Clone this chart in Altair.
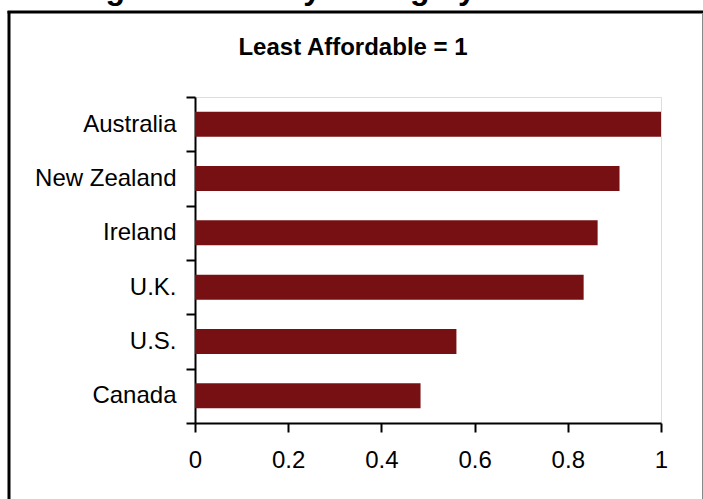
import altair as alt
import pandas as pd

countries = ["Australia", "New Zealand", "Ireland", "U.K.", "U.S.", "Canada"]
values = [1.0, 0.911, 0.864, 0.834, 0.561, 0.484]
x_ticks = [0, 0.2, 0.4, 0.6, 0.8, 1.0]
subtitle = "Least Affordable = 1"
top_title = "Housing Affordability Rating by Nation"

df = pd.DataFrame({"country": countries, "value": values})

FONT = "Liberation Sans"
W, H = 466, 326

bars = alt.Chart(df).mark_bar(color="#771012", height={"band": 0.46}).encode(
    x=alt.X(
        "value:Q",
        scale=alt.Scale(domain=[0, 1], nice=False),
        axis=alt.Axis(
            values=x_ticks, format="~g", title=None, grid=False,
            tickSize=9, tickWidth=2, tickColor="black",
            domainColor="black", domainWidth=2,
            labelFont=FONT, labelFontSize=24, labelColor="black",
            labelPadding=16, labelFlush=False, labelOverlap=False,
        ),
    ),
    y=alt.Y(
        "country:N",
        sort=countries,
        scale=alt.Scale(paddingInner=0, paddingOuter=0),
        axis=alt.Axis(
            title=None, tickBand="extent",
            tickSize=9, tickWidth=2, tickColor="black",
            domainColor="black", domainWidth=2,
            labelFont=FONT, labelFontSize=24, labelColor="black",
            labelPadding=10,
        ),
    ),
)

one = alt.Data(values=[{"a": 1}])

sub = alt.Chart(one).mark_text(
    font=FONT, fontSize=24, fontWeight="bold", color="black", align="center", baseline="middle"
).encode(x=alt.value(158), y=alt.value(-49), text=alt.value(subtitle))

top = alt.Chart(one).mark_text(
    font=FONT, fontSize=32, fontWeight="bold", color="black", align="left", baseline="alphabetic"
).encode(x=alt.value(-198), y=alt.value(-98), text=alt.value(top_title))

left_border = alt.Chart(one).mark_rule(color="black", strokeWidth=3).encode(
    x=alt.value(-186), y=alt.value(-86), y2=alt.value(H + 80)
)
top_border = alt.Chart(one).mark_rule(color="black", strokeWidth=3).encode(
    x=alt.value(-187.5), x2=alt.value(W + 50), y=alt.value(-85)
)
right_border = alt.Chart(one).mark_rule(color="#888888", strokeWidth=1).encode(
    x=alt.value(W + 41.5), y=alt.value(-84), y2=alt.value(H + 80)
)

chart = alt.layer(bars, sub, top, left_border, top_border, right_border).properties(
    width=W, height=H,
    autosize=alt.AutoSizeParams(type="none"),
    padding={"left": 195, "top": 97, "right": 42, "bottom": 76},
).configure_view(stroke=None).configure(background="white")

chart.save("out.html", embed_options={"renderer": "svg", "actions": False})
